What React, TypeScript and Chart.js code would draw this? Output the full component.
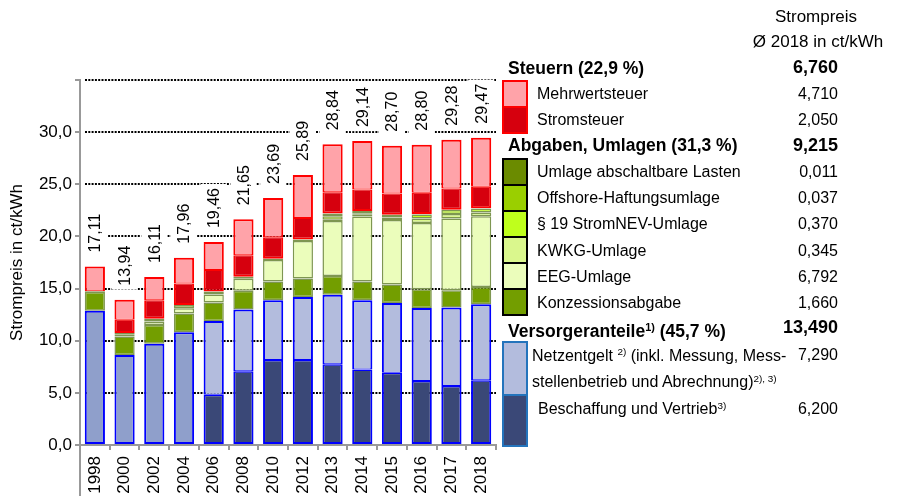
import React, { useEffect, useRef } from 'react';
import { Chart, registerables } from 'chart.js';
Chart.register(...registerables);

const FONT = '"Liberation Sans", Arial, Helvetica, sans-serif';

// ---- data (ct/kWh) ----
const years = ['1998', '2000', '2002', '2004', '2006', '2008', '2010', '2012', '2013', '2014', '2015', '2016', '2017', '2018'];
const totalLabels = ['17,11', '13,94', '16,11', '17,96', '19,46', '21,65', '23,69', '25,89', '28,84', '29,14', '28,70', '28,80', '29,28', '29,47'];
const totals = [17.11, 13.94, 16.11, 17.96, 19.46, 21.65, 23.69, 25.89, 28.84, 29.14, 28.70, 28.80, 29.28, 29.47];

const versorgerGesamt = [12.88, 8.62, 9.71, 10.82, null, null, null, null, null, null, null, null, null, null];
const beschaffung = [null, null, null, null, 4.82, 7.08, 8.15, 8.14, 7.74, 7.25, 6.93, 6.14, 5.66, 6.20];
const netzentgelt = [null, null, null, null, 7.06, 5.92, 5.74, 6.04, 6.675, 6.63, 6.68, 7.00, 7.52, 7.29];
const konzession = [1.79, 1.79, 1.79, 1.79, 1.79, 1.79, 1.79, 1.79, 1.79, 1.79, 1.79, 1.79, 1.66, 1.66];
const eeg = [0.08, 0.20, 0.35, 0.51, 0.75, 1.16, 2.05, 3.59, 5.28, 6.24, 6.17, 6.354, 6.88, 6.792];
const kwkg = [null, 0.13, 0.25, 0.31, 0.31, 0.19, 0.13, 0.002, 0.126, 0.178, 0.254, 0.445, 0.438, 0.345];
const stromNev = [null, null, null, null, null, null, null, 0.151, 0.329, 0.092, 0.237, 0.378, 0.388, 0.370];
const offshore = [null, null, null, null, null, null, null, null, 0.25, 0.25, null, 0.04, null, 0.037];
const abschaltbar = [null, null, null, null, null, null, null, null, null, 0.009, 0.006, null, 0.006, 0.011];
const stromsteuer = [null, 1.28, 1.79, 2.05, 2.05, 2.05, 2.05, 2.05, 2.05, 2.05, 2.05, 2.05, 2.05, 2.05];
const mwst = [2.36, 1.92, 2.22, 2.48, 2.68, 3.46, 3.78, 4.13, 4.60, 4.65, 4.58, 4.60, 4.67, 4.71];

const yTicksMax = 35;
const yTickStep = 5;

// legend text
const steuernItems = [['Mehrwertsteuer', '4,710'], ['Stromsteuer', '2,050']];
const abgabenItems = [
  ['Umlage abschaltbare Lasten', '0,011'],
  ['Offshore-Haftungsumlage', '0,037'],
  ['§ 19 StromNEV-Umlage', '0,370'],
  ['KWKG-Umlage', '0,345'],
  ['EEG-Umlage', '6,792'],
  ['Konzessionsabgabe', '1,660'],
];

// ---- colours ----
const C = {
  mwst: '#FFA3A9',
  stromsteuer: '#D6000E',
  abschaltbar: '#6B8B00',
  offshore: '#9ACF00',
  stromNev: '#BFFF1C',
  kwkg: '#DAF78D',
  eeg: '#EBFDBB',
  konzession: '#739E00',
  netz: '#B3BCDD',
  beschaffung: '#3A4877',
  versorger: '#8F9FCB',
  red: '#FF0000',
  blue: '#0000FF',
  greenBorder: '#7E9651',
};

const fmt = (v: number) => v.toFixed(1).replace('.', ',');

function App() {
  const ref = useRef<HTMLCanvasElement>(null);

  useEffect(() => {
    if (!ref.current) return;
    const mk = (label: string, data: any[], bg: string, border: string, bw: any) => ({
      label, data, backgroundColor: bg, borderColor: border, borderWidth: bw,
      borderSkipped: false, stack: 's', barPercentage: 0.68, categoryPercentage: 1,
    });

    const plugin = {
      id: 'decor',
      beforeDatasetsDraw(chart: any) {
        const { ctx, chartArea, scales } = chart;
        const y = scales.y;
        ctx.save();
        ctx.strokeStyle = '#000';
        ctx.lineWidth = 2;
        ctx.setLineDash([2, 1.3]);
        for (let v = yTickStep; v <= yTicksMax; v += yTickStep) {
          const py = Math.round(y.getPixelForValue(v));
          ctx.beginPath();
          ctx.moveTo(chartArea.left + 5, py);
          ctx.lineTo(chartArea.right, py);
          ctx.stroke();
        }
        ctx.restore();
      },
      afterDatasetsDraw(chart: any) {
        const { ctx, scales } = chart;
        const xs = scales.x, ys = scales.y;
        ctx.save();
        ctx.font = `16px ${FONT}`;
        totals.forEach((t, i) => {
          const x = xs.getPixelForValue(i);
          const yTop = ys.getPixelForValue(t);
          const txt = totalLabels[i];
          const w = ctx.measureText(txt).width;
          ctx.save();
          ctx.translate(x, yTop - 14);
          ctx.rotate(-Math.PI / 2);
          ctx.fillStyle = '#fff';
          ctx.fillRect(-4, -13, w + 8, 26);
          ctx.fillStyle = '#000';
          ctx.textAlign = 'left';
          ctx.textBaseline = 'middle';
          ctx.fillText(txt, 0, 1);
          ctx.restore();
        });
        ctx.restore();
      },
      afterDraw(chart: any) {
        const { ctx, chartArea } = chart;
        ctx.save();
        ctx.strokeStyle = '#999';
        ctx.lineWidth = 2;
        ctx.beginPath();
        ctx.moveTo(chartArea.left, chartArea.bottom);
        ctx.lineTo(chartArea.left, 496);
        ctx.stroke();
        ctx.translate(17, (chartArea.top + chartArea.bottom) / 2);
        ctx.rotate(-Math.PI / 2);
        ctx.font = `17px ${FONT}`;
        ctx.fillStyle = '#000';
        ctx.textAlign = 'center';
        ctx.textBaseline = 'middle';
        ctx.fillText('Strompreis in ct/kWh', 0, 0);
        ctx.restore();
      },
    };

    const chart = new Chart(ref.current, {
      type: 'bar',
      data: {
        labels: years,
        datasets: [
          mk('Versorgeranteile', versorgerGesamt, C.versorger, C.blue, 2),
          mk('Beschaffung und Vertrieb', beschaffung, C.beschaffung, C.blue, { top: 1.5, left: 2, right: 2, bottom: 2 }),
          mk('Netzentgelt', netzentgelt, C.netz, C.blue, { top: 2, left: 2, right: 2, bottom: 1 }),
          mk('Konzessionsabgabe', konzession, C.konzession, C.greenBorder, 1.5),
          mk('EEG-Umlage', eeg, C.eeg, C.greenBorder, 1.5),
          mk('KWKG-Umlage', kwkg, C.kwkg, C.greenBorder, 1.5),
          mk('§ 19 StromNEV-Umlage', stromNev, C.stromNev, C.greenBorder, 1.5),
          mk('Offshore-Haftungsumlage', offshore, C.offshore, C.greenBorder, 1.5),
          mk('Umlage abschaltbare Lasten', abschaltbar, C.abschaltbar, C.greenBorder, 1.5),
          mk('Stromsteuer', stromsteuer, C.stromsteuer, C.red, { top: 1, left: 2, right: 2, bottom: 2 }),
          mk('Mehrwertsteuer', mwst, C.mwst, C.red, { top: 2, left: 2, right: 2, bottom: 1 }),
        ],
      },
      options: {
        animation: false,
        responsive: false,
        devicePixelRatio: 1,
        layout: { padding: { left: 0, top: 80, right: 402, bottom: 0 } },
        plugins: { legend: { display: false }, tooltip: { enabled: false } },
        scales: {
          x: {
            stacked: true,
            afterFit: (s: any) => { s.height = 51; },
            grid: { offset: true, drawOnChartArea: false, drawTicks: true, tickLength: 5, color: '#999', lineWidth: 2 },
            border: { color: '#999', width: 2 },
            ticks: { minRotation: 90, maxRotation: 90, autoSkip: false, padding: 6, color: '#000', font: { family: FONT, size: 17 } },
          },
          y: {
            stacked: true,
            min: 0,
            max: yTicksMax,
            afterFit: (s: any) => { s.width = 80; },
            grid: { drawOnChartArea: false, drawTicks: true, tickLength: 5, color: '#999', lineWidth: 2 },
            border: { color: '#999', width: 2 },
            ticks: {
              stepSize: yTickStep, padding: 3, color: '#000', font: { family: FONT, size: 17 },
              callback: (v: any) => (v === yTicksMax ? '' : fmt(Number(v))),
            },
          },
        },
      },
      plugins: [plugin],
    } as any);
    return () => chart.destroy();
  }, []);

  const base: React.CSSProperties = { position: 'absolute', whiteSpace: 'nowrap', color: '#000', fontFamily: FONT };
  const txt = (left: number, cy: number, size: number, content: React.ReactNode, bold = false, key?: string) => (
    <div key={key} style={{ ...base, left, top: cy - size / 2, fontSize: size, lineHeight: `${size}px`, fontWeight: bold ? 'bold' : 'normal' }}>{content}</div>
  );
  const val = (cy: number, size: number, content: string, bold = false, key?: string) => (
    <div key={key} style={{ ...base, right: 898 - 838, top: cy - size / 2, fontSize: size, lineHeight: `${size}px`, fontWeight: bold ? 'bold' : 'normal' }}>{content}</div>
  );
  const center = (cx: number, cy: number, size: number, content: string) => (
    <div style={{ ...base, left: cx, top: cy - size / 2, fontSize: size, lineHeight: `${size}px`, transform: 'translateX(-50%)' }}>{content}</div>
  );
  const box = (top: number, h: number, bg: string, border: string, key: string) => (
    <div key={key} style={{ position: 'absolute', left: 502, top, width: 26, height: h, background: bg, border: `2px solid ${border}`, boxSizing: 'border-box' }} />
  );
  const sup = (s: string) => <span style={{ fontSize: '0.62em', position: 'relative', top: '-0.55em' }}>{s}</span>;

  const abgabenColors = [C.abschaltbar, C.offshore, C.stromNev, C.kwkg, C.eeg, C.konzession];
  const steuerColors = [C.mwst, C.stromsteuer];

  return (
    <div style={{ position: 'fixed', left: 0, top: 0, width: 898, height: 496, background: '#fff', overflow: 'hidden' }}>
      <canvas ref={ref} width={898} height={496} style={{ display: 'block', position: 'absolute', left: 0, top: 0 }} />
      {center(816, 16, 17, 'Strompreis')}
      {center(818, 41, 17, 'Ø 2018 in ct/kWh')}

      {txt(508, 69, 17.5, 'Steuern (22,9 %)', true)}
      {val(67, 18, '6,760', true)}
      {steuernItems.map((it, i) => box(80 + i * 26, 28, steuerColors[i], C.red, 'sb' + i))}
      {steuernItems.map((it, i) => txt(537, 94 + i * 26, 16, it[0], false, 'st' + i))}
      {steuernItems.map((it, i) => val(94 + i * 26, 16, it[1], false, 'sv' + i))}

      {txt(508, 146, 17.5, 'Abgaben, Umlagen (31,3 %)', true)}
      {val(145, 18, '9,215', true)}
      {abgabenItems.map((it, i) => box(158 + i * 26, 28, abgabenColors[i], '#000', 'ab' + i))}
      {abgabenItems.map((it, i) => txt(537, 172 + i * 26.2, 16, it[0], false, 'at' + i))}
      {abgabenItems.map((it, i) => val(172 + i * 26.2, 16, it[1], false, 'av' + i))}

      {txt(508, 332, 17.5, <>Versorgeranteile{sup('1)')} (45,7 %)</>, true)}
      {val(327, 18, '13,490', true)}
      {box(341, 55, C.netz, '#2474BC', 'nb')}
      {box(394, 53, C.beschaffung, '#2474BC', 'bb')}
      {txt(532, 355.5, 16, <>Netzentgelt {sup('2)')} (inkl. Messung, Mess-</>)}
      {txt(532, 382, 16, <>stellenbetrieb und Abrechnung){sup('2), 3)')}</>)}
      {val(355, 16, '7,290')}
      {txt(538, 409, 16, <>Beschaffung und Vertrieb{sup('3)')}</>)}
      {val(409, 16, '6,200')}
    </div>
  );
}

export default App;
